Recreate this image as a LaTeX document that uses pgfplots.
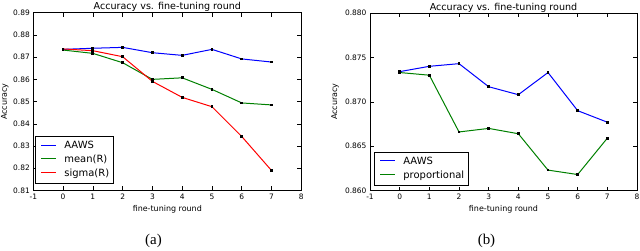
\documentclass[border=0pt]{standalone}
\usepackage{fontspec}
\setmainfont{DejaVu Sans}
\newfontfamily\capfont{Liberation Serif}
\usepackage{pgfplots}
\pgfplotsset{compat=1.18}
\definecolor{mblue}{rgb}{0,0,1}
\definecolor{mgreen}{rgb}{0,0.5,0}
\definecolor{mred}{rgb}{1,0,0}
\newcommand{\legline}[1]{\hspace*{2bp}\textcolor{#1}{\rule[2.9bp]{15bp}{1bp}}\hspace*{8bp}}
\pgfplotsset{
  mpl/.style={
    scale only axis,
    xmin=-1, xmax=8,
    xtick={-1,0,1,2,3,4,5,6,7,8},
    tick align=inside,
    xtick pos=both, ytick pos=both,
    major tick length=4bp,
    tick style={black, line width=0.5bp},
    axis line style={black, line width=0.8bp},
    ticklabel style={font=\fontsize{7.5}{8}\selectfont},
    /pgf/number format/assume math mode=true,
    every axis title shift=0pt,
    title style={font=\fontsize{9.6}{10}\selectfont, at={(0.5,1)}, anchor=base, yshift=2.7bp},
    xlabel style={font=\fontsize{8}{9}\selectfont, at={(axis description cs:0.5,0)}, anchor=center, yshift=-18.5bp},
    ylabel style={font=\fontsize{8}{9}\selectfont, anchor=center},
    title={Accuracy vs. fine-tuning round},
    xlabel={fine-tuning round},
    ylabel={Accuracy},
    every axis plot/.append style={line width=1bp},
    legend image code/.code={},
    legend style={draw=black, line width=0.8bp, fill=white, font=\fontsize{10}{11}\selectfont,
      cells={anchor=west}, inner xsep=2bp, inner ysep=3bp, row sep=0bp,
      nodes={text height=7.3bp, text depth=2.5bp, inner ysep=2bp, inner xsep=2bp}},
  },
  dots/.style={mark=square*, mark size=0.9bp, mark options={draw=black, fill=black, solid}},
}
\begin{document}
\begin{tikzpicture}[x=1bp,y=1bp]
\path[use as bounding box] (0bp,0bp) rectangle (640bp,251bp);
\begin{axis}[mpl,
  at={(33.3bp,60.5bp)}, anchor=south west,
  width=268bp, height=177.8bp,
  ymin=0.81, ymax=0.89,
  ytick={0.81,0.82,0.83,0.84,0.85,0.86,0.87,0.88,0.89},
  yticklabel style={/pgf/number format/fixed, /pgf/number format/fixed zerofill, /pgf/number format/precision=2},
  ylabel style={at={(axis description cs:-0.106,0.5)}},
  legend style={at={(axis description cs:0,0)}, anchor=south west, xshift=1.7bp, yshift=6.5bp},
]
\addplot[color=mblue, dots] coordinates {(0,0.8735) (1,0.8740) (2,0.8744) (3,0.8720) (4,0.8708) (5,0.8735) (6,0.8692) (7,0.8678)};
\addlegendentry{\legline{mblue}AAWS}
\addplot[color=mgreen, dots] coordinates {(0,0.8732) (1,0.8717) (2,0.8675) (3,0.8600) (4,0.8607) (5,0.8555) (6,0.8494) (7,0.8485)};
\addlegendentry{\legline{mgreen}mean(R)}
\addplot[color=mred, dots] coordinates {(0,0.8737) (1,0.8729) (2,0.8702) (3,0.8591) (4,0.8519) (5,0.8477) (6,0.8343) (7,0.8190)};
\addlegendentry{\legline{mred}sigma(R)}
\end{axis}
\begin{axis}[mpl,
  at={(370bp,60.5bp)}, anchor=south west,
  width=267bp, height=177.4bp,
  ymin=0.860, ymax=0.880,
  ytick={0.860,0.865,0.870,0.875,0.880},
  yticklabel style={/pgf/number format/fixed, /pgf/number format/fixed zerofill, /pgf/number format/precision=3},
  ylabel style={at={(axis description cs:-0.131,0.5)}},
  legend style={at={(axis description cs:0,0)}, anchor=south west, xshift=4bp, yshift=4.5bp},
]
\addplot[color=mblue, dots] coordinates {(0,0.8734) (1,0.8740) (2,0.8743) (3,0.8717) (4,0.8708) (5,0.8733) (6,0.8690) (7,0.8677)};
\addlegendentry{\legline{mblue}AAWS}
\addplot[color=mgreen, dots] coordinates {(0,0.8733) (1,0.8730) (2,0.8666) (3,0.8670) (4,0.8664) (5,0.8623) (6,0.8618) (7,0.8659)};
\addlegendentry{\legline{mgreen}proportional}
\end{axis}
\node[font=\capfont\fontsize{15}{16}\selectfont, anchor=center] at (153.5bp,10bp) {(a)};
\node[font=\capfont\fontsize{15}{16}\selectfont, anchor=center] at (486.5bp,10bp) {(b)};
\end{tikzpicture}
\end{document}
